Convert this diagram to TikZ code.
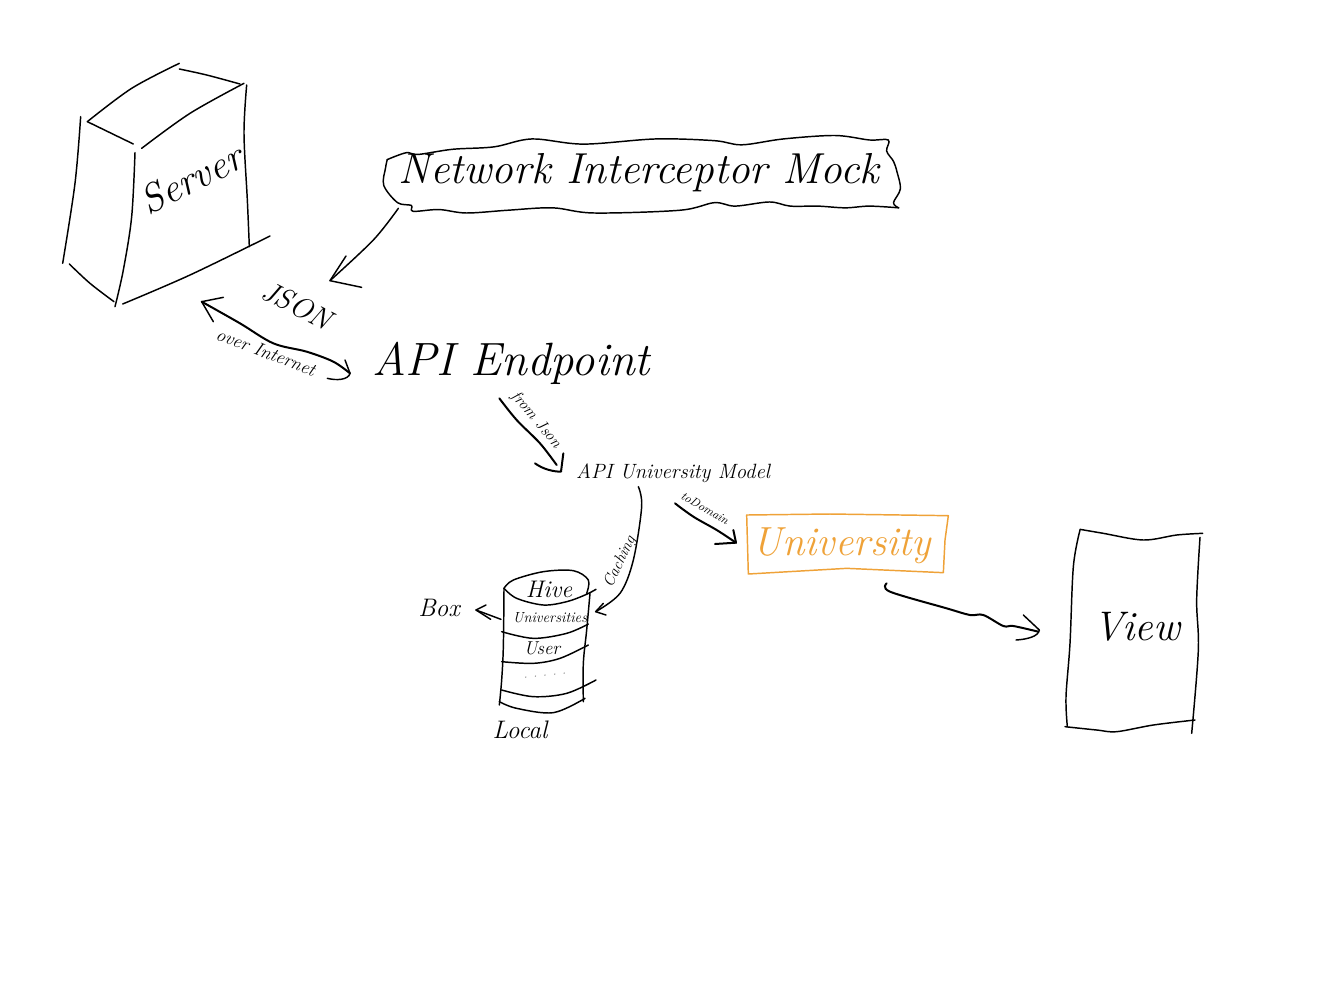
\documentclass[tikz,border=0pt]{standalone}
\usepackage{fontspec}
\tikzset{
  ink/.style={draw=black,line width=1.1pt,line cap=round,line join=round},
  thick ink/.style={ink,line width=1.5pt},
  fine ink/.style={ink,line width=.8pt},
  hand/.style={font=\fontsize{#1}{#1}\selectfont\itshape,inner sep=0pt,text=black},
  zoomA/.style={shift={(40,50)},x=.25pt,y=-.25pt},
  zoomB/.style={shift={(370,120)},x=.2583pt,y=-.2583pt},
  zoomC/.style={shift={(400,380)},x=.25pt,y=-.25pt},
  zoomD/.style={shift={(730,500)},x=.25pt,y=-.25pt},
}
\newcommand{\stroke}[2][ink]{\draw[#1] plot[smooth,tension=.55] coordinates {#2};}
\definecolor{uniorange}{HTML}{EFA238}
\begin{document}
\begin{tikzpicture}[x=.75pt,y=-.75pt]
\useasboundingbox (0,0) rectangle (1337,1000);
\fill[white] (0,0) rectangle (1337,1000);

% labels
\node[hand=30,rotate=27] (server) at (191,179) {Server};
\node[hand=32.5] (mock) at (639,173) {Network Interceptor Mock};
\node[hand=22,rotate=-27] (json) at (297,305) {JSON};
\node[hand=14,rotate=-21] (overnet) at (266,352) {over Internet};
\node[hand=35] (endpoint) at (511,363) {API Endpoint};
\node[hand=12,rotate=-50] (fromjson) at (536,420) {from Json};
\node[hand=15.5] (apimodel) at (673,473) {API University Model};
\node[hand=9,rotate=-30] (todomain) at (705,508) {toDomain};
\node[hand=30.5,text=uniorange] (university) at (842,546) {University};
\node[hand=12,rotate=65] (caching) at (620,562) {Caching};
\node[hand=18] (hive) at (549,589) {Hive};
\node[hand=11] (universities) at (550,618) {Universities};
\node[hand=14] (user) at (542,648) {User};
\node[hand=9,text=gray,rotate=6] (dots) at (545,676) {. . . . .};
\node[hand=19] (box) at (439,608) {Box};
\node[hand=19] (local) at (520,730) {Local};
\node[hand=31] (view) at (1137,627) {View};

% server box
\begin{scope}[zoomA]
\stroke{(122,200) (105,400) (68,640)}
\stroke{(142,215) (280,282)}
\stroke{(142,215) (275,115) (418,40)}
\stroke{(418,57) (500,75) (600,102)}
\stroke{(612,100) (450,190) (305,295)}
\stroke{(285,308) (275,500) (250,660) (225,770)}
\stroke{(620,105) (612,250) (622,450) (628,590)}
\stroke{(88,642) (150,700) (222,755)}
\stroke{(248,762) (450,675) (690,558)}
% mock -> JSON
\coordinate (mockout) at (1075,475);
\coordinate (jsontip) at (870,692);
\stroke{(mockout) (1000,570) (jsontip)}
\draw[ink] (918,618) -- (jsontip) -- (965,712);
% server <-> endpoint
\coordinate (srvtip) at (485,755);
\coordinate (eptip) at (930,970);
\stroke[thick ink]{(srvtip) (600,820) (700,880) (800,905) (880,935) (eptip)}
\draw[ink] (550,742) -- (srvtip) -- (520,815);
\draw[ink] (915,930) -- (eptip) .. controls (925,990) and (890,992) .. (862,985);
\end{scope}

% mock cloud
\begin{scope}[zoomB]
\stroke{(50,115) (105,95) (140,100) (240,85) (360,78) (470,55) (620,70) (830,55) (1000,60) (1080,72) (1200,55) (1350,45) (1450,58) (1505,58) (1500,90) (1520,120) (1530,150) (1540,200) (1520,240) (1535,255)}
\stroke{(1535,255) (1450,250) (1380,255) (1300,250) (1220,250) (1160,238) (1060,250) (1000,240) (900,262) (650,270) (530,255) (400,262) (280,270) (200,260) (125,265) (120,248) (80,240) (40,190) (45,140) (50,115)}
\end{scope}

% arrows around the model, and the store
\begin{scope}[zoomC]
\coordinate (fromstart) at (298,55);
\coordinate (fromtip) at (483,275);
\stroke[thick ink]{(fromstart) (350,120) (420,190) (470,255)}
\draw[thick ink] (405,250) .. controls (430,268) and (460,275) .. (fromtip) -- (490,220);
\coordinate (dostart) at (825,370);
\coordinate (dotip) at (1008,488);
\stroke[thick ink]{(dostart) (880,410) (950,450) (dotip)}
\draw[thick ink] (1000,450) -- (dotip) -- (945,492);
\coordinate (cachestart) at (715,320);
\coordinate (cachetip) at (587,695);
\stroke{(cachestart) (725,380) (700,540) (660,640) (cachetip)}
\draw[ink] (610,670) -- (cachetip) -- (618,705);
\coordinate (boxstart) at (303,718);
\coordinate (boxtip) at (228,690);
\draw[ink] (boxstart) -- (boxtip);
\draw[ink] (258,675) -- (boxtip) -- (272,718);
% cylinder
\stroke{(312,625) (340,600) (430,575) (520,572) (565,600) (560,640)}
\stroke{(312,625) (350,655) (430,675) (500,665) (555,645) (588,628)}
\stroke{(312,625) (310,800) (305,900) (298,975)}
\stroke{(570,640) (560,750) (550,850) (550,965)}
\stroke{(305,755) (400,775) (500,760) (565,732)}
\stroke{(305,845) (400,850) (480,835) (565,795)}
\stroke{(305,930) (400,950) (500,940) (588,900)}
\stroke{(298,965) (350,985) (460,998) (555,955)}
\end{scope}

% domain box, view
\begin{scope}[zoomD]
\draw[ink,draw=uniorange] (50,45) -- (300,42) -- (655,47) -- (645,120) -- (640,218) -- (350,205) -- (55,222) -- cycle;
\coordinate (uniout) at (470,250);
\coordinate (viewtip) at (928,390);
\stroke[thick ink]{(uniout) (480,275) (650,325) (720,345) (760,345) (820,378) (850,378) (925,395)}
\draw[ink] (880,345) -- (viewtip) .. controls (925,410) and (890,418) .. (858,420);
\stroke{(1050,88) (1120,100) (1240,120) (1340,105) (1418,100)}
\stroke{(1050,90) (1030,200) (1020,430) (1008,590) (1012,680)}
\stroke{(1410,112) (1400,300) (1405,450) (1385,700)}
\stroke{(1005,680) (1100,690) (1160,695) (1270,675) (1395,660)}
\end{scope}
\end{tikzpicture}
\end{document}
